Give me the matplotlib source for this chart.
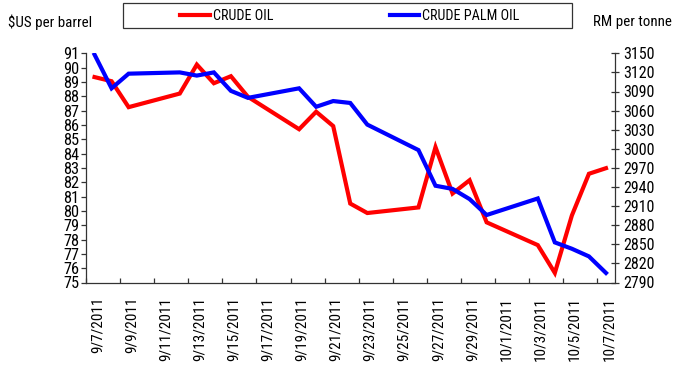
import datetime as dt
import matplotlib
matplotlib.use("Agg")
import matplotlib.pyplot as plt
import matplotlib.dates as mdates
import matplotlib.ticker as mticker
from matplotlib import font_manager
from matplotlib.lines import Line2D
from matplotlib.patches import Rectangle

# Trading days and closing prices
dates = ["2011-09-07", "2011-09-08", "2011-09-09", "2011-09-12", "2011-09-13",
         "2011-09-14", "2011-09-15", "2011-09-16", "2011-09-19", "2011-09-20",
         "2011-09-21", "2011-09-22", "2011-09-23", "2011-09-26", "2011-09-27",
         "2011-09-28", "2011-09-29", "2011-09-30", "2011-10-03", "2011-10-04",
         "2011-10-05", "2011-10-06", "2011-10-07"]
crude_oil = [89.34, 89.05, 87.24, 88.19, 90.21, 88.91, 89.40, 87.96, 85.70,
             86.92, 85.92, 80.51, 79.85, 80.24, 84.45, 81.21, 82.14, 79.20,
             77.61, 75.67, 79.68, 82.59, 82.98]
crude_palm_oil = [3148, 3095, 3118, 3120, 3115, 3120, 3091, 3080, 3095, 3066,
                  3075, 3072, 3038, 2998, 2942, 2937, 2921, 2896, 2922, 2853,
                  2843, 2831, 2805]

left_ticks = list(range(75, 92))
right_ticks = list(range(2790, 3151, 30))
series_names = ["CRUDE OIL", "CRUDE PALM OIL"]

x = [dt.datetime.strptime(d, "%Y-%m-%d") for d in dates]


def pick_narrow_font():
    """Return (family, stretch, found) for the narrowest regular face available."""
    preferred = ["Liberation Sans Narrow", "Arial Narrow", "Roboto Condensed",
                 "Open Sans Condensed", "Noto Sans", "DejaVu Sans", "Roboto",
                 "Open Sans"]
    entries = font_manager.fontManager.ttflist
    by_name = {}
    for f in entries:
        narrow = (f.stretch in ("condensed", "semi-condensed", "extra-condensed")
                  or "Narrow" in f.name or "Condensed" in f.name)
        if narrow and f.style == "normal" and f.weight in (400, "normal", "regular"):
            by_name.setdefault(f.name, f.stretch)
    for name in preferred:
        if name in by_name:
            return name, by_name[name], True
    if by_name:
        name = sorted(by_name)[0]
        return name, by_name[name], True
    return "DejaVu Sans", "normal", False


family, stretch, found = pick_narrow_font()
scale = 1.0 if found else 0.88
plt.rcParams["font.family"] = [family, "DejaVu Sans"]
plt.rcParams["font.stretch"] = stretch

W, H = 675, 365
fig = plt.figure(figsize=(W / 100, H / 100), dpi=100)
ax = fig.add_axes([86 / W, 1 - 282.5 / H, (614.5 - 86) / W, (282.5 - 53.3) / H])
ax2 = ax.twinx()

ax.plot(x, crude_oil, color="#ff0000", lw=3.0, solid_joinstyle="miter", zorder=3)
ax2.plot(x, crude_palm_oil, color="#0000ff", lw=3.0, solid_joinstyle="miter", zorder=3)

start = x[0] - dt.timedelta(hours=12)
end = x[-1] + dt.timedelta(hours=12)
ax.set_xlim(start, end)

ax.set_ylim(left_ticks[0], left_ticks[-1])
ax.set_yticks(left_ticks)
ax2.set_ylim(right_ticks[0], right_ticks[-1])
ax2.set_yticks(right_ticks)

# Date labels every two days (nudged a little right of the day centre),
# tick marks on the day boundaries
label_days = [x[0] + dt.timedelta(days=2 * i, hours=4) for i in range(16)]
ax.set_xticks(label_days)
ax.xaxis.set_major_formatter(mticker.FuncFormatter(
    lambda v, p: "{d.month}/{d.day}/{d.year}".format(d=mdates.num2date(v))))
ax.set_xticks([start + dt.timedelta(days=2 * i) for i in range(16)], minor=True)
ax.tick_params(axis="x", which="major", length=0, pad=10.5,
               labelsize=11 * scale, labelrotation=90)
ax.tick_params(axis="x", which="minor", direction="in", length=3.5, width=0.9,
               color="#333333")
for lbl in ax.get_xticklabels():
    lbl.set_va("top")
    lbl.set_ha("center")

ax.tick_params(axis="y", direction="out", length=3.5, width=0.9, color="#333333",
               labelsize=11.8 * scale, pad=1.2)
ax2.tick_params(axis="y", direction="inout", length=6, width=0.9, color="#333333",
                labelsize=11.5 * scale, pad=3.5)

for a in (ax, ax2):
    a.spines["top"].set_visible(False)
    for s in ("left", "right", "bottom"):
        a.spines[s].set_color("#333333")
        a.spines[s].set_linewidth(0.9)
ax.spines["right"].set_visible(False)
ax2.spines["left"].set_visible(False)
ax2.spines["bottom"].set_visible(False)

fig.text(8 / W, 1 - 22 / H, "$US per barrel", fontsize=10.8 * scale,
         va="center", ha="left")
fig.text(593 / W, 1 - 22 / H, "RM per tonne", fontsize=10.8 * scale,
         va="center", ha="left")

# Legend frame and entries
fig.patches.append(Rectangle((123 / W, 1 - 28 / H), (572 - 123) / W, 25 / H,
                             transform=fig.transFigure, fill=False,
                             edgecolor="#333333", linewidth=0.9))
handles = [Line2D([], [], color="#ff0000", lw=3.0),
           Line2D([], [], color="#0000ff", lw=3.0)]
leg = fig.legend(handles, series_names, loc="center",
                 bbox_to_anchor=(350 / W, 1 - 15.5 / H), ncol=2, frameon=False,
                 fontsize=10.2 * scale, handlelength=2.1, handletextpad=0.2,
                 columnspacing=8.2)

fig.savefig("out.png", dpi=100)
